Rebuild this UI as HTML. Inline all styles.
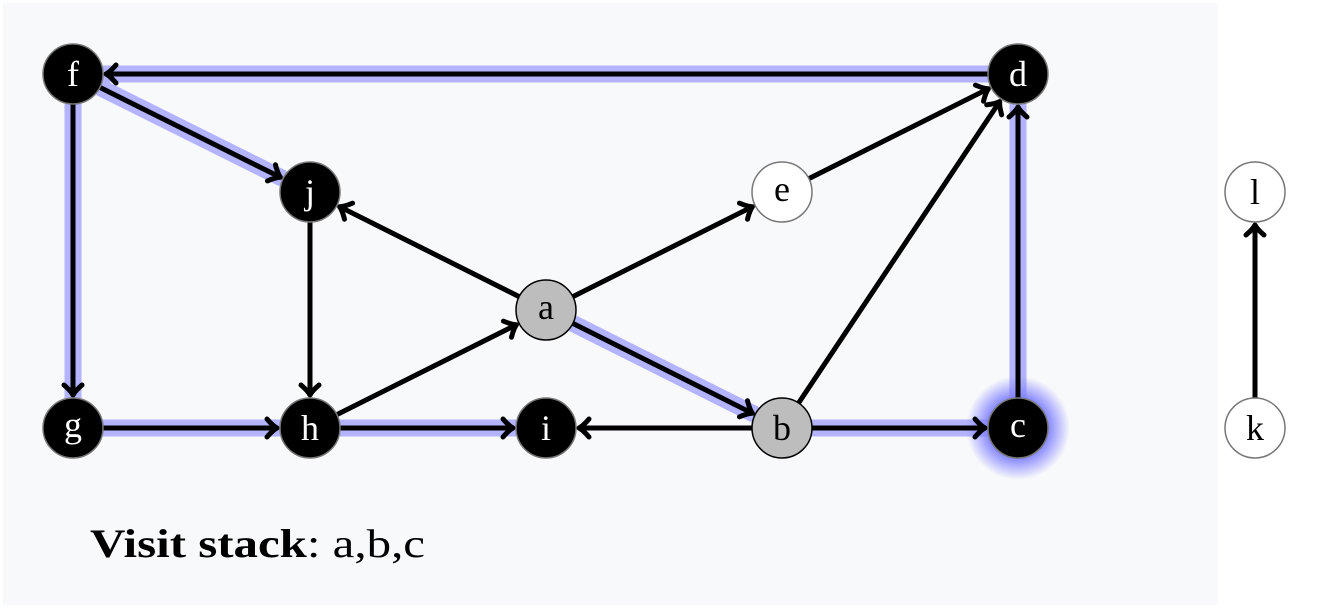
<!DOCTYPE html>
<html><head><meta charset="utf-8"><style>
html,body{margin:0;padding:0;background:#fff;}
svg{display:block;}
text{font-family:"Liberation Serif",serif;}
</style></head><body>
<svg width="1330" height="609" viewBox="0 0 1330 609" xmlns="http://www.w3.org/2000/svg">
<defs>
<marker id="ar" markerUnits="userSpaceOnUse" markerWidth="30" markerHeight="30" viewBox="-15 -15 30 30" refX="0" refY="0" orient="auto" overflow="visible">
<path d="M -10 -9 Q -4 -2 0 0 Q -4 2 -10 9" fill="none" stroke="#000" stroke-width="5" stroke-linecap="round" stroke-linejoin="round"/>
</marker>
<radialGradient id="glow">
<stop offset="0.55" stop-color="#8080ff" stop-opacity="1"/>
<stop offset="1" stop-color="#8080ff" stop-opacity="0"/>
</radialGradient>
</defs>
<rect x="3" y="3" width="1215" height="602" fill="#f8f9fb"/>
<g stroke="#b3b3ff" stroke-width="17" fill="none">
<line x1="988" y1="74" x2="103" y2="74"/>
<line x1="99.9" y1="87.4" x2="283.1" y2="178.6"/>
<line x1="73" y1="104" x2="73" y2="398"/>
<line x1="103" y1="428" x2="280" y2="428"/>
<line x1="340" y1="428" x2="516" y2="428"/>
<line x1="572.9" y1="323.4" x2="755.1" y2="414.6"/>
<line x1="812" y1="428" x2="988" y2="428"/>
<line x1="1018" y1="398" x2="1018" y2="104"/>
</g>
<circle cx="1018" cy="428" r="52" fill="url(#glow)"/>
<g stroke="#000" stroke-width="5" fill="none" marker-end="url(#ar)">
<line x1="988" y1="74" x2="106" y2="74"/>
<line x1="99.9" y1="87.4" x2="280.4" y2="177.3"/>
<line x1="73" y1="104" x2="73" y2="395"/>
<line x1="103" y1="428" x2="277" y2="428"/>
<line x1="340" y1="428" x2="513" y2="428"/>
<line x1="572.9" y1="323.4" x2="752.4" y2="413.3"/>
<line x1="812" y1="428" x2="985" y2="428"/>
<line x1="1018" y1="398" x2="1018" y2="107"/>
<line x1="310" y1="222" x2="310" y2="395"/>
<line x1="519.1" y1="296.6" x2="339.6" y2="206.7"/>
<line x1="336.9" y1="414.6" x2="516.4" y2="324.7"/>
<line x1="572.9" y1="296.6" x2="752.4" y2="206.7"/>
<line x1="808.9" y1="178.6" x2="988.4" y2="88.7"/>
<line x1="798.6" y1="403" x2="999.7" y2="101.5"/>
<line x1="752" y1="428" x2="579" y2="428"/>
<line x1="1255" y1="398" x2="1255" y2="225"/>
</g>
<g stroke="#777" stroke-width="1.5">
<circle cx="73" cy="74" r="30" fill="#000"/>
<circle cx="1018" cy="74" r="30" fill="#000"/>
<circle cx="310" cy="192" r="30" fill="#000"/>
<circle cx="73" cy="428" r="30" fill="#000"/>
<circle cx="310" cy="428" r="30" fill="#000"/>
<circle cx="546" cy="428" r="30" fill="#000"/>
<circle cx="1018" cy="428" r="30" fill="#000"/>
<circle cx="782" cy="192" r="30" fill="#fff"/>
<circle cx="1255" cy="192" r="30" fill="#fff"/>
<circle cx="1255" cy="428" r="30" fill="#fff"/>
</g>
<g stroke="#000" stroke-width="1.5" fill="#bdbdbd">
<circle cx="546" cy="310" r="30"/>
<circle cx="782" cy="428" r="30"/>
</g>
<g font-size="36" text-anchor="middle">
<text x="73" y="86" fill="#fff">f</text>
<text x="1018" y="86" fill="#fff">d</text>
<text x="310" y="204" fill="#fff">j</text>
<text x="73" y="437" fill="#fff">g</text>
<text x="310" y="440" fill="#fff">h</text>
<text x="546" y="440" fill="#fff">i</text>
<text x="1018" y="437" fill="#fff">c</text>
<text x="782" y="201" fill="#000">e</text>
<text x="1255" y="204" fill="#000">l</text>
<text x="1255" y="440" fill="#000">k</text>
<text x="546" y="319" fill="#000">a</text>
<text x="782" y="440" fill="#000">b</text>
</g>
<text x="90" y="557" font-size="40" textLength="335" lengthAdjust="spacingAndGlyphs"><tspan font-weight="bold">Visit stack</tspan>: a,b,c</text>
</svg>
</body></html>
